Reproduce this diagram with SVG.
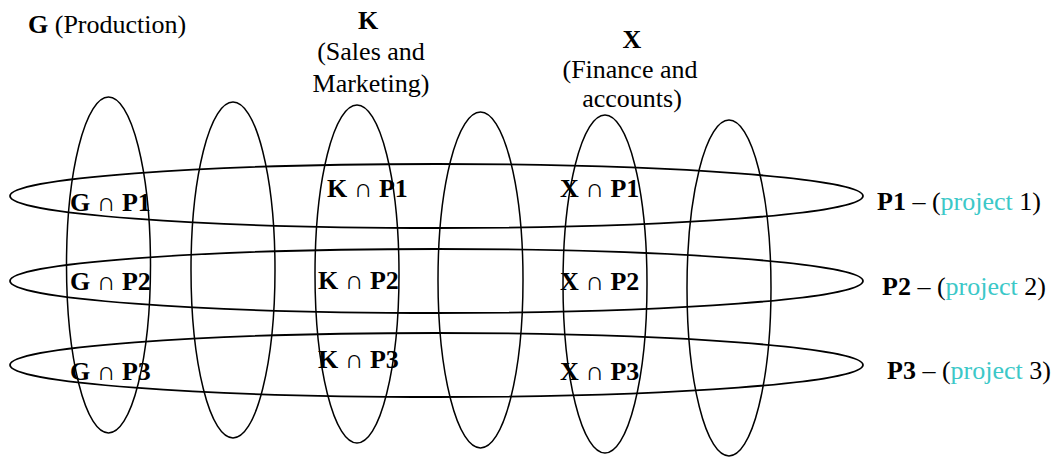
<svg xmlns="http://www.w3.org/2000/svg" width="1053" height="457" viewBox="0 0 1053 457">
<style>
text{font-family:"Liberation Serif","Times New Roman",serif;font-size:26px;fill:#000}
.b{font-weight:bold}
.c{text-anchor:middle}
.cy{fill:#3cc8c8}
.v{fill:none;stroke:#000;stroke-width:1.5}
.h{fill:none;stroke:#000;stroke-width:1.8}
</style>
<rect width="1053" height="457" fill="#fff"/>
<g id="connectors">
<ellipse class="v" cx="108.5" cy="265" rx="42" ry="168"/>
<ellipse class="v" cx="233" cy="270" rx="42" ry="168"/>
<ellipse class="v" cx="357" cy="274" rx="42" ry="169"/>
<ellipse class="v" cx="480.5" cy="280" rx="42.5" ry="168"/>
<ellipse class="v" cx="605" cy="284" rx="42" ry="169"/>
<ellipse class="v" cx="729" cy="288" rx="42" ry="168"/>
<ellipse class="h" cx="436.5" cy="196" rx="426.5" ry="32"/>
<ellipse class="h" cx="436.5" cy="281" rx="426.5" ry="32"/>
<ellipse class="h" cx="436.5" cy="365" rx="426.5" ry="32"/>
</g>
<g id="G"><text x="28" y="33"><tspan class="b">G</tspan> (Production)</text></g>
<g id="K">
<text class="b c" x="368" y="29">K</text>
<text class="c" x="371" y="60">(Sales and</text>
<text class="c" x="371" y="92">Marketing)</text>
</g>
<g id="X">
<text class="b c" x="632" y="48">X</text>
<text class="c" x="630" y="78">(Finance and</text>
<text class="c" x="632" y="107">accounts)</text>
</g>
<g id="GP1"><text class="b" x="70" y="211">G ∩ P1</text></g>
<g id="GP2"><text class="b" x="70" y="290">G ∩ P2</text></g>
<g id="GP3"><text class="b" x="70" y="380">G ∩ P3</text></g>
<g id="KP1"><text class="b" x="327" y="197">K ∩ P1</text></g>
<g id="KP2"><text class="b" x="318" y="289">K ∩ P2</text></g>
<g id="KP3"><text class="b" x="318" y="368">K ∩ P3</text></g>
<g id="XP1"><text class="b" x="560" y="197">X ∩ P1</text></g>
<g id="XP2"><text class="b" x="560" y="290">X ∩ P2</text></g>
<g id="XP3"><text class="b" x="560" y="380">X ∩ P3</text></g>
<g id="P1"><text x="877" y="210"><tspan class="b">P1</tspan> – (<tspan class="cy">project</tspan> 1)</text></g>
<g id="P2"><text x="882" y="295"><tspan class="b">P2</tspan> – (<tspan class="cy">project</tspan> 2)</text></g>
<g id="P3"><text x="887" y="379"><tspan class="b">P3</tspan> – (<tspan class="cy">project</tspan> 3)</text></g>
</svg>
